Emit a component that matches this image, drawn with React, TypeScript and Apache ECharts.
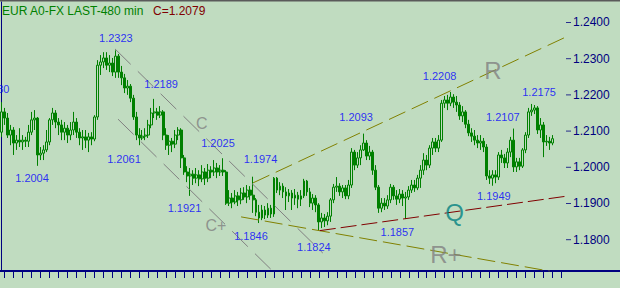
import React, { useEffect, useRef } from "react";
import * as echarts from "echarts";

// ---- data ----
const slotCount = 189; // bar slots on the time axis (the last ones are empty space before the price scale)
const categories = Array.from({ length: slotCount }, (_, i) => `Bar ${i + 1}`);

const opens = [
  1.2097, 1.2153, 1.2136, 1.2089, 1.2103, 1.2067, 1.2075, 1.2070, 1.2075, 1.2072,
  1.2097, 1.2131, 1.2136, 1.2034, 1.2039, 1.2048, 1.2070, 1.2131, 1.2150, 1.2125,
  1.2117, 1.2097, 1.2108, 1.2089, 1.2103, 1.2125, 1.2097, 1.2081, 1.2084, 1.2075,
  1.2084, 1.2078, 1.2139, 1.2282, 1.2291, 1.2302, 1.2282, 1.2288, 1.2263, 1.2307,
  1.2263, 1.2247, 1.2219, 1.2224, 1.2191, 1.2139, 1.2089, 1.2081, 1.2086, 1.2089,
  1.2117, 1.2150, 1.2153, 1.2144, 1.2153, 1.2089, 1.2061, 1.2072, 1.2064, 1.2089,
  1.2103, 1.2026, 1.1987, 1.1976, 1.1981, 1.1970, 1.1979, 1.1968, 1.1987, 1.1970,
  1.1992, 1.1987, 1.1998, 1.1987, 1.1992, 1.1987, 1.1901, 1.1915, 1.1904, 1.1921,
  1.1910, 1.1929, 1.1918, 1.1937, 1.1923, 1.1910, 1.1876, 1.1860, 1.1882, 1.1868,
  1.1887, 1.1871, 1.1970, 1.1937, 1.1948, 1.1932, 1.1921, 1.1929, 1.1915, 1.1923,
  1.1912, 1.1921, 1.1962, 1.1932, 1.1901, 1.1915, 1.1896, 1.1849, 1.1860, 1.1852,
  1.1865, 1.1910, 1.1945, 1.1948, 1.1932, 1.1943, 1.1921, 1.1951, 1.2042, 1.2006,
  1.2026, 1.2048, 1.2067, 1.2031, 1.2042, 1.1992, 1.1945, 1.1887, 1.1901, 1.1893,
  1.1910, 1.1945, 1.1921, 1.1912, 1.1926, 1.1915, 1.1918, 1.1937, 1.1951, 1.1943,
  1.1970, 1.1992, 1.2020, 1.2006, 1.2053, 1.2070, 1.2053, 1.2075, 1.2177, 1.2186,
  1.2177, 1.2194, 1.2180, 1.2172, 1.2142, 1.2153, 1.2119, 1.2095, 1.2086, 1.2075,
  1.2067, 1.2072, 1.2056, 1.1976, 1.1970, 1.1979, 1.1973, 1.2034, 1.2026, 1.2012,
  1.2042, 1.2075, 1.2001, 1.2015, 1.2003, 1.2048, 1.2089, 1.2153, 1.2158, 1.2164,
  1.2103, 1.2117, 1.2070, 1.2072, 1.2067,
];

const closes = [
  1.2153, 1.2136, 1.2089, 1.2103, 1.2067, 1.2075, 1.2070, 1.2075, 1.2072, 1.2097,
  1.2131, 1.2136, 1.2034, 1.2039, 1.2048, 1.2070, 1.2131, 1.2150, 1.2125, 1.2117,
  1.2097, 1.2108, 1.2089, 1.2103, 1.2125, 1.2097, 1.2081, 1.2084, 1.2075, 1.2084,
  1.2078, 1.2139, 1.2282, 1.2291, 1.2302, 1.2282, 1.2288, 1.2263, 1.2307, 1.2263,
  1.2247, 1.2219, 1.2224, 1.2191, 1.2139, 1.2089, 1.2081, 1.2086, 1.2089, 1.2117,
  1.2150, 1.2153, 1.2144, 1.2153, 1.2089, 1.2061, 1.2072, 1.2064, 1.2089, 1.2103,
  1.2026, 1.1987, 1.1976, 1.1981, 1.1970, 1.1979, 1.1968, 1.1987, 1.1970, 1.1992,
  1.1987, 1.1998, 1.1987, 1.1992, 1.1987, 1.1901, 1.1915, 1.1904, 1.1921, 1.1910,
  1.1929, 1.1918, 1.1937, 1.1923, 1.1910, 1.1876, 1.1860, 1.1882, 1.1868, 1.1887,
  1.1871, 1.1970, 1.1937, 1.1948, 1.1932, 1.1921, 1.1929, 1.1915, 1.1923, 1.1912,
  1.1921, 1.1962, 1.1932, 1.1901, 1.1915, 1.1896, 1.1849, 1.1860, 1.1852, 1.1865,
  1.1910, 1.1945, 1.1948, 1.1932, 1.1943, 1.1921, 1.1951, 1.2042, 1.2006, 1.2026,
  1.2048, 1.2067, 1.2031, 1.2042, 1.1992, 1.1945, 1.1887, 1.1901, 1.1893, 1.1910,
  1.1945, 1.1921, 1.1912, 1.1926, 1.1915, 1.1918, 1.1937, 1.1951, 1.1943, 1.1970,
  1.1992, 1.2020, 1.2006, 1.2053, 1.2070, 1.2053, 1.2075, 1.2177, 1.2186, 1.2177,
  1.2194, 1.2180, 1.2172, 1.2142, 1.2153, 1.2119, 1.2095, 1.2086, 1.2075, 1.2067,
  1.2072, 1.2056, 1.1976, 1.1970, 1.1979, 1.1973, 1.2034, 1.2026, 1.2012, 1.2042,
  1.2075, 1.2001, 1.2015, 1.2003, 1.2048, 1.2089, 1.2153, 1.2158, 1.2164, 1.2103,
  1.2117, 1.2070, 1.2072, 1.2067, 1.2079,
];

const highs = [
  1.2180, 1.2164, 1.2150, 1.2117, 1.2111, 1.2089, 1.2108, 1.2089, 1.2084, 1.2117,
  1.2153, 1.2158, 1.2139, 1.2056, 1.2061, 1.2103, 1.2136, 1.2164, 1.2158, 1.2136,
  1.2131, 1.2125, 1.2117, 1.2125, 1.2153, 1.2136, 1.2108, 1.2103, 1.2103, 1.2095,
  1.2097, 1.2144, 1.2296, 1.2310, 1.2318, 1.2318, 1.2310, 1.2302, 1.2323, 1.2313,
  1.2280, 1.2258, 1.2241, 1.2230, 1.2200, 1.2153, 1.2108, 1.2103, 1.2108, 1.2131,
  1.2164, 1.2189, 1.2164, 1.2169, 1.2158, 1.2108, 1.2089, 1.2081, 1.2103, 1.2111,
  1.2108, 1.2034, 1.2003, 1.1998, 1.1992, 1.1998, 1.1992, 1.2006, 1.1998, 1.2009,
  1.2003, 1.2020, 1.2012, 1.2006, 1.2025, 1.1992, 1.1937, 1.1929, 1.1937, 1.1932,
  1.1943, 1.1945, 1.1951, 1.1948, 1.1974, 1.1915, 1.1896, 1.1896, 1.1893, 1.1901,
  1.1896, 1.1973, 1.1973, 1.1959, 1.1956, 1.1945, 1.1940, 1.1937, 1.1940, 1.1932,
  1.1937, 1.1968, 1.1965, 1.1943, 1.1926, 1.1923, 1.1901, 1.1874, 1.1871, 1.1876,
  1.1915, 1.1954, 1.1973, 1.1956, 1.1951, 1.1951, 1.1965, 1.2053, 1.2048, 1.2042,
  1.2061, 1.2093, 1.2075, 1.2059, 1.2048, 1.2006, 1.1951, 1.1915, 1.1915, 1.1923,
  1.1954, 1.1951, 1.1937, 1.1940, 1.1937, 1.1932, 1.1948, 1.1965, 1.1965, 1.1979,
  1.2006, 1.2039, 1.2034, 1.2061, 1.2081, 1.2081, 1.2089, 1.2186, 1.2197, 1.2200,
  1.2208, 1.2202, 1.2197, 1.2180, 1.2169, 1.2158, 1.2131, 1.2108, 1.2103, 1.2089,
  1.2089, 1.2081, 1.2064, 1.1992, 1.1992, 1.1992, 1.2042, 1.2048, 1.2037, 1.2053,
  1.2084, 1.2107, 1.2026, 1.2026, 1.2053, 1.2097, 1.2164, 1.2175, 1.2172, 1.2169,
  1.2136, 1.2125, 1.2089, 1.2084, 1.2089,
];

const lows = [
  1.2084, 1.2117, 1.2081, 1.2061, 1.2034, 1.2048, 1.2056, 1.2048, 1.2056, 1.2056,
  1.2089, 1.2103, 1.2004, 1.2020, 1.2020, 1.2042, 1.2061, 1.2117, 1.2108, 1.2089,
  1.2075, 1.2075, 1.2067, 1.2075, 1.2089, 1.2081, 1.2061, 1.2048, 1.2053, 1.2042,
  1.2061, 1.2072, 1.2131, 1.2255, 1.2274, 1.2269, 1.2263, 1.2252, 1.2247, 1.2247,
  1.2227, 1.2205, 1.2200, 1.2180, 1.2131, 1.2075, 1.2061, 1.2075, 1.2075, 1.2081,
  1.2108, 1.2136, 1.2131, 1.2136, 1.2075, 1.2048, 1.2034, 1.2042, 1.2053, 1.2075,
  1.1998, 1.1979, 1.1959, 1.1921, 1.1951, 1.1956, 1.1948, 1.1959, 1.1951, 1.1959,
  1.1970, 1.1976, 1.1970, 1.1976, 1.1976, 1.1896, 1.1893, 1.1887, 1.1898, 1.1893,
  1.1898, 1.1910, 1.1901, 1.1910, 1.1874, 1.1865, 1.1846, 1.1854, 1.1857, 1.1860,
  1.1860, 1.1863, 1.1929, 1.1923, 1.1915, 1.1882, 1.1904, 1.1882, 1.1896, 1.1887,
  1.1893, 1.1915, 1.1921, 1.1890, 1.1882, 1.1876, 1.1824, 1.1832, 1.1835, 1.1840,
  1.1849, 1.1901, 1.1932, 1.1921, 1.1915, 1.1912, 1.1912, 1.1943, 1.1992, 1.1998,
  1.2006, 1.2045, 1.2020, 1.2020, 1.1979, 1.1937, 1.1874, 1.1876, 1.1882, 1.1885,
  1.1901, 1.1910, 1.1896, 1.1901, 1.1893, 1.1857, 1.1910, 1.1929, 1.1932, 1.1937,
  1.1943, 1.1979, 1.1992, 1.1998, 1.2034, 1.2042, 1.2042, 1.2070, 1.2164, 1.2158,
  1.2169, 1.2164, 1.2153, 1.2131, 1.2125, 1.2108, 1.2086, 1.2070, 1.2061, 1.2053,
  1.2048, 1.2042, 1.1965, 1.1954, 1.1949, 1.1956, 1.1965, 1.2012, 1.1998, 1.1998,
  1.2028, 1.1987, 1.1987, 1.1992, 1.1998, 1.2039, 1.2081, 1.2142, 1.2147, 1.2092,
  1.2081, 1.2028, 1.2059, 1.2048, 1.2061,
];

// price scale
const priceTicks = [1.18, 1.19, 1.2, 1.21, 1.22, 1.23, 1.24];
const priceMin = 1.17135;
const priceMax = 1.24566;

// trend lines: [bar position, price]
const lineC = [[37.9, 1.2327], [107.3, 1.1763]];
const lineCPlus = [[38.9, 1.2133], [90.6, 1.1713]];
const lineR = [[84.0, 1.1957], [188.5, 1.236]];
const lineRPlus = [[80.0, 1.1863], [183.1, 1.1713]];
const lineQ = [[106.3, 1.1825], [188.5, 1.192]];

// pivot price labels and where they sit: [bar position, price]
const pivotTexts = [
  "1.2323", "1.2180", "1.2189", "1.2025", "1.2061", "1.2004", "1.1974", "1.1921",
  "1.1846", "1.1824", "1.1857", "1.1949", "1.2093", "1.2208", "1.2107", "1.2175",
];
const pivotAt = [
  [38.2, 1.2357], [2.67, 1.2216], [53.3, 1.2230], [72.3, 1.2066], [40.9, 1.2023],
  [10.2, 1.1970], [86.5, 1.2023], [61.1, 1.1888], [83.3, 1.1810], [104.3, 1.1780],
  [132.2, 1.1821], [164.4, 1.1920], [118.4, 1.2139], [146.3, 1.2252], [167.4, 1.2139],
  [179.5, 1.2209],
];

// channel letters
const letterTexts = ["C", "C+", "R", "R+", "Q"];
const letterAt = [[66.9, 1.2122], [71.6, 1.1838], [164.1, 1.2267], [148.4, 1.1758], [151.3, 1.1874]];

export default function App() {
  const ref = useRef<HTMLDivElement>(null);

  useEffect(() => {
    if (!ref.current) return;
    const chart = echarts.init(ref.current, null, { renderer: "svg" });
    const font = "Liberation Sans, Arial, Helvetica, sans-serif";
    const navy = "#000080";
    const bg = "#C0DCC0";
    const green = "#008000";

    const candleData = opens.map((o, i) => [o, closes[i], lows[i], highs[i]]);
    const lastClose = closes[closes.length - 1];
    const scaleEdge = slotCount - 0.5;

    const letterStyles = [
      { fontSize: 16, color: "#808080" },
      { fontSize: 16, color: "#808080" },
      { fontSize: 24, color: "#808080" },
      { fontSize: 24, color: "#808080" },
      { fontSize: 24, color: "#008080" },
    ];

    const trend = (data: number[][], color: string, dash: number[]) => ({
      type: "line",
      xAxisIndex: 1,
      yAxisIndex: 0,
      data,
      symbol: "none",
      silent: true,
      z: 3,
      lineStyle: { color, width: 1, type: dash },
    });

    chart.setOption({
      animation: false,
      backgroundColor: bg,
      textStyle: { fontFamily: font },
      title: [
        {
          text: "EUR A0-FX LAST-480 min",
          left: 2,
          top: 5,
          padding: 0,
          textStyle: { color: green, fontSize: 12, fontWeight: "normal", fontFamily: font },
        },
        {
          text: `C=${lastClose.toFixed(4)}`,
          left: 153,
          top: 5,
          padding: 0,
          textStyle: { color: "#800000", fontSize: 12, fontWeight: "normal", fontFamily: font },
        },
      ],
      graphic: [
        {
          type: "line",
          shape: { x1: 0, y1: 0.75, x2: 620, y2: 0.75 },
          style: { stroke: "#5a5a5a", lineWidth: 1.5 },
          silent: true,
        },
        {
          type: "line",
          shape: { x1: 566, y1: 271, x2: 620, y2: 271 },
          style: { stroke: navy, lineWidth: 2 },
          silent: true,
        },
      ],
      grid: { left: 0, right: 54, top: 2, bottom: 17, containLabel: false },
      xAxis: [
        {
          type: "category",
          data: categories,
          boundaryGap: true,
          axisLine: { show: true, lineStyle: { color: navy, width: 2 } },
          axisTick: {
            show: true,
            alignWithLabel: true,
            length: 7,
            interval: (i: number) => i % 3 === 1,
            lineStyle: { color: navy, width: 1 },
          },
          axisLabel: { show: false },
          splitLine: { show: false },
        },
        {
          type: "value",
          min: -0.5,
          max: scaleEdge,
          show: false,
        },
      ],
      yAxis: {
        type: "value",
        position: "right",
        min: priceMin,
        max: priceMax,
        axisLine: { show: true, lineStyle: { color: navy, width: 1 } },
        axisTick: { show: false },
        axisLabel: {
          show: true,
          customValues: priceTicks,
          formatter: (v: number) => v.toFixed(4),
          color: navy,
          fontSize: 12,
          margin: 7,
          fontFamily: font,
        },
        splitLine: { show: false },
      },
      series: [
        {
          type: "candlestick",
          xAxisIndex: 0,
          yAxisIndex: 0,
          data: candleData,
          barWidth: 2.4,
          silent: true,
          z: 2,
          itemStyle: {
            color: bg,
            color0: green,
            borderColor: green,
            borderColor0: green,
            borderWidth: 1,
          },
        },
        trend(lineC, "#808080", [22, 10]),
        trend(lineCPlus, "#808080", [22, 10]),
        trend(lineR, "#808000", [18, 7]),
        trend(lineRPlus, "#808000", [18, 6]),
        trend(lineQ, "#800000", [16, 5]),
        {
          // price-scale tick marks, placed on the axis through the scales
          type: "scatter",
          xAxisIndex: 1,
          yAxisIndex: 0,
          silent: true,
          clip: false,
          z: 6,
          symbol: "rect",
          symbolSize: [5, 1],
          symbolOffset: [2.5, 0],
          itemStyle: { color: navy },
          data: priceTicks.map((v) => [scaleEdge, v]),
        },
        {
          type: "scatter",
          xAxisIndex: 1,
          yAxisIndex: 0,
          silent: true,
          z: 5,
          symbolSize: 1,
          itemStyle: { color: "rgba(0,0,0,0)" },
          data: pivotTexts.map((t, i) => ({
            name: t,
            value: pivotAt[i],
            label: i === 1 ? { align: "right" } : undefined,
          })),
          label: {
            show: true,
            position: "inside",
            formatter: "{b}",
            color: "#0000FF",
            fontSize: 11,
            fontFamily: font,
          },
        },
        {
          type: "scatter",
          xAxisIndex: 1,
          yAxisIndex: 0,
          silent: true,
          z: 5,
          symbolSize: 1,
          itemStyle: { color: "rgba(0,0,0,0)" },
          data: letterTexts.map((t, i) => ({
            name: t,
            value: letterAt[i],
            label: letterStyles[i],
          })),
          label: {
            show: true,
            position: "inside",
            formatter: "{b}",
            fontFamily: font,
          },
        },
      ],
    });

    return () => chart.dispose();
  }, []);

  return (
    <div
      ref={ref}
      style={{ position: "absolute", left: 0, top: 0, width: 620, height: 288 }}
    />
  );
}
